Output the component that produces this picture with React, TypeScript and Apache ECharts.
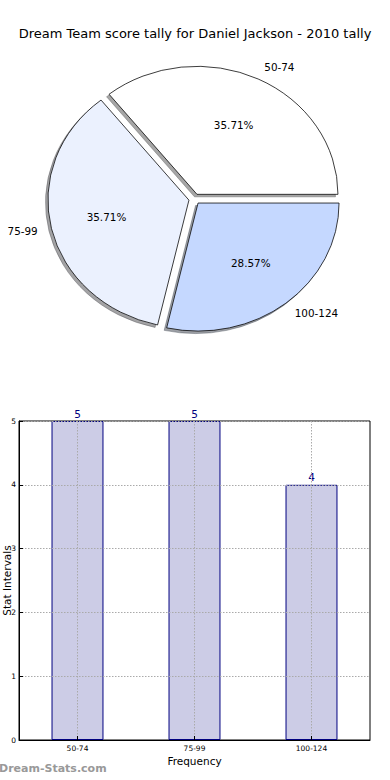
import React, { useEffect, useRef } from 'react';
import * as echarts from 'echarts';

const titleText = 'Dream Team score tally for Daniel Jackson - 2010 tally';
const categories = ['50-74', '75-99', '100-124'];
const counts = [5, 5, 4];
const yAxisMin = 0;
const yAxisMax = 5;
const yAxisStep = 1;
const xAxisName = 'Frequency';
const yAxisName = 'Stat Intervals';
const watermarkText = 'Dream-Stats.com';

const sliceColors = ['#ffffff', '#ebf1fe', '#c5d8ff'];
const FONT = 'DejaVu Sans';
const PIE = { cx: 194.5, cy: 199, rx: 141, ry: 128, explode: 5.7, shadow: 2.5 };

function shadowColor(hex: string): string {
  const n = parseInt(hex.slice(1), 16);
  const r = Math.round(((n >> 16) & 255) * 0.3);
  const g = Math.round(((n >> 8) & 255) * 0.3);
  const b = Math.round((n & 255) * 0.3);
  return `rgba(${r},${g},${b},0.5)`;
}

export default function App() {
  const ref = useRef<HTMLDivElement>(null);
  useEffect(() => {
    if (!ref.current) return;
    const chart = echarts.init(ref.current, null, { renderer: 'svg' });
    const total = counts.reduce((a, b) => a + b, 0);
    const sy = PIE.ry / PIE.rx;
    const gridStyle = { color: '#aaaaaa', width: 1, type: [1.5, 1.5] as any };

    chart.setOption({
      animation: false,
      backgroundColor: '#ffffff',
      title: {
        text: titleText,
        left: 'center',
        top: 22,
        textStyle: { fontFamily: FONT, fontSize: 13, fontWeight: 'normal', color: '#000' },
      },
      grid: {
        left: 19,
        right: 20,
        top: 421,
        bottom: 40,
        containLabel: false,
        outerBoundsMode: 'none',
        show: true,
        borderColor: '#000',
        borderWidth: 1,
        backgroundColor: 'transparent',
      } as any,
      xAxis: {
        type: 'category',
        data: categories,
        z: 5,
        boundaryGap: true,
        name: xAxisName,
        nameLocation: 'middle',
        nameGap: 15,
        nameMoveOverlap: false,
        nameTextStyle: { fontFamily: FONT, fontSize: 10.5, color: '#000' },
        axisLine: { show: true, lineStyle: { color: '#000', width: 1 } },
        axisTick: { show: true, inside: true, alignWithLabel: true, length: 4, lineStyle: { color: '#000' } },
        axisLabel: { fontFamily: FONT, fontSize: 7.5, color: '#000', margin: 4, interval: 0 },
        splitLine: { show: true, alignWithLabel: true, lineStyle: gridStyle } as any,
      } as any,
      yAxis: {
        type: 'value',
        min: yAxisMin,
        max: yAxisMax,
        interval: yAxisStep,
        z: 5,
        name: yAxisName,
        nameLocation: 'middle',
        nameRotate: 90,
        nameGap: 7,
        nameMoveOverlap: false,
        nameTextStyle: { fontFamily: FONT, fontSize: 10.5, color: '#000' },
        axisLine: { show: true, lineStyle: { color: '#000', width: 1 } },
        axisTick: { show: true, inside: true, length: 4, lineStyle: { color: '#000' } },
        axisLabel: { fontFamily: FONT, fontSize: 7.5, color: '#000', margin: 3 },
        splitLine: { show: true, lineStyle: gridStyle },
      } as any,
      series: [
        {
          type: 'custom',
          coordinateSystem: 'none',
          silent: true,
          data: counts.map((v, i) => [v, i]),
          renderItem: (params: any, api: any) => {
            const i = params.dataIndex;
            const v = api.value(0) as number;
            let before = 0;
            for (let j = 0; j < i; j++) before += counts[j];
            const a0 = (2 * Math.PI * before) / total;
            const a1 = (2 * Math.PI * (before + v)) / total;
            const mid = (a0 + a1) / 2;
            const c = Math.cos(mid);
            const s = Math.sin(mid);
            const shape = {
              cx: PIE.explode * c,
              cy: -PIE.explode * s,
              r: PIE.rx,
              r0: 0,
              startAngle: -a1,
              endAngle: -a0,
              clockwise: true,
            };
            const pctR = 0.6 * PIE.rx + PIE.explode;
            const labR = 1.1 * PIE.rx + PIE.explode;
            const pct = ((v / total) * 100).toFixed(2) + '%';
            const sc = shadowColor(sliceColors[i]);
            return {
              type: 'group',
              children: [
                {
                  type: 'sector',
                  x: PIE.cx - PIE.shadow,
                  y: PIE.cy + PIE.shadow,
                  scaleY: sy,
                  shape,
                  style: { fill: sc, stroke: sc, lineWidth: 0.8, strokeNoScale: true },
                  z2: 1,
                },
                {
                  type: 'sector',
                  x: PIE.cx,
                  y: PIE.cy,
                  scaleY: sy,
                  shape,
                  style: { fill: sliceColors[i], stroke: '#000', lineWidth: 0.8, strokeNoScale: true },
                  z2: 10,
                },
                {
                  type: 'text',
                  x: PIE.cx + pctR * c,
                  y: PIE.cy - pctR * s * sy,
                  style: {
                    text: pct,
                    fill: '#000',
                    fontFamily: FONT,
                    fontSize: 10.4,
                    align: 'center',
                    verticalAlign: 'middle',
                  },
                  z2: 20,
                },
                {
                  type: 'text',
                  x: PIE.cx + labR * c,
                  y: PIE.cy - labR * s * sy,
                  style: {
                    text: categories[i],
                    fill: '#000',
                    fontFamily: FONT,
                    fontSize: 10.4,
                    align: c > 0 ? 'left' : 'right',
                    verticalAlign: 'middle',
                  },
                  z2: 20,
                },
              ],
            };
          },
        },
        {
          type: 'bar',
          data: counts,
          z: 2,
          barWidth: '44.4%',
          itemStyle: { color: 'rgba(0,0,128,0.2)', borderColor: '#000080', borderWidth: 1 },
          label: {
            show: true,
            position: 'top',
            distance: 2,
            color: '#000080',
            fontFamily: FONT,
            fontSize: 10.5,
          },
        },
      ],
      graphic: [
        {
          type: 'text',
          left: -1,
          top: 763,
          style: {
            text: watermarkText,
            fill: '#999999',
            fontFamily: FONT,
            fontSize: 11,
            fontWeight: 'bold',
          },
        },
      ],
    });
    return () => chart.dispose();
  }, []);
  return <div ref={ref} style={{ position: 'absolute', left: 0, top: 0, width: 390, height: 780 }} />;
}
